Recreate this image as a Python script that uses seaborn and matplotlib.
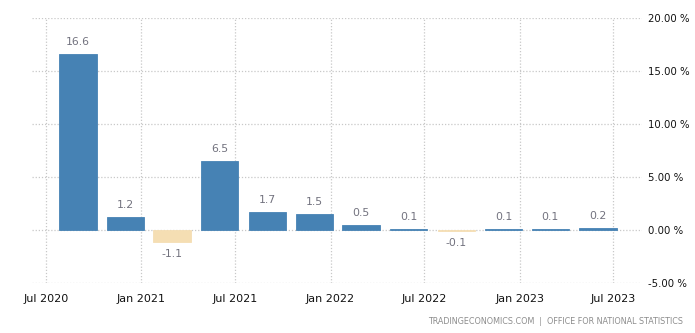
import matplotlib
matplotlib.use("Agg")
import matplotlib.pyplot as plt
import matplotlib.dates as mdates
import seaborn as sns
import pandas as pd
import numpy as np

# Data: UK GDP growth q/q (%) by quarter
quarters = ["2020Q3", "2020Q4", "2021Q1", "2021Q2", "2021Q3", "2021Q4",
            "2022Q1", "2022Q2", "2022Q3", "2022Q4", "2023Q1", "2023Q2"]
bar_dates = ["2020-09-01", "2020-12-01", "2021-03-01", "2021-06-01",
             "2021-09-01", "2021-12-01", "2022-03-01", "2022-06-01",
             "2022-09-01", "2022-12-01", "2023-03-01", "2023-06-01"]
values = [16.6, 1.2, -1.1, 6.5, 1.7, 1.5, 0.5, 0.1, -0.1, 0.1, 0.1, 0.2]
tick_dates = ["2020-07-01", "2021-01-01", "2021-07-01", "2022-01-01",
              "2022-07-01", "2023-01-01", "2023-07-01"]
tick_labels = ["Jul 2020", "Jan 2021", "Jul 2021", "Jan 2022",
               "Jul 2022", "Jan 2023", "Jul 2023"]
y_ticks = [-5, 0, 5, 10, 15, 20]
source_text = "TRADINGECONOMICS.COM  |  OFFICE FOR NATIONAL STATISTICS"

df = pd.DataFrame({
    "quarter": quarters,
    "x": mdates.date2num(pd.to_datetime(bar_dates)),
    "value": values,
})
df["sign"] = np.where(df["value"] < 0, "neg", "pos")

sns.set_style("white")
plt.rcParams["font.family"] = ["DejaVu Sans"]

fig = plt.figure(figsize=(6.95, 3.33), dpi=100)
ax = fig.add_axes([32 / 695, 50 / 333, 610 / 695, 265 / 333])

sns.barplot(data=df, x="x", y="value", hue="sign", native_scale=True,
            palette={"pos": "#4682b4", "neg": "#f5deb3"}, dodge=False,
            width=0.8, legend=False, ax=ax, saturation=1, linewidth=0)

for p in ax.patches:
    p.set_edgecolor(p.get_facecolor())
    p.set_linewidth(0.6)

for c in ax.containers:
    ax.bar_label(c, fmt="%.1f", padding=5, fontsize=7.8, color="#72727e")

t_num = mdates.date2num(pd.to_datetime(tick_dates))
left = mdates.date2num(pd.Timestamp("2020-07-01")) - 27
right = mdates.date2num(pd.Timestamp("2023-07-01")) + 55
ax.set_xlim(left, right)
ax.set_ylim(-5, 20)
ax.set_xticks(t_num)
ax.set_xticklabels(tick_labels, fontsize=8, color="#111111")
ax.set_yticks(y_ticks)
ax.set_yticklabels([f"{v:.2f} %" for v in y_ticks], fontsize=7.3, color="#111111")
ax.yaxis.tick_right()
ax.tick_params(axis="y", length=0, pad=4)
ax.tick_params(axis="x", length=5, color="#cccccc", width=0.8, pad=3,
               direction="out")
ax.grid(True, axis="both", linestyle=(0, (1, 1.5)), color="#c8c8c8", linewidth=0.9)
ax.set_axisbelow(True)
for s in ax.spines.values():
    s.set_visible(False)
ax.set_xlabel("")
ax.set_ylabel("")

fig.text(683 / 695, 1 - 322 / 333, source_text, ha="right", va="center",
         fontsize=5.8, color="#8c8c8c")

fig.savefig("out.png", dpi=100)
